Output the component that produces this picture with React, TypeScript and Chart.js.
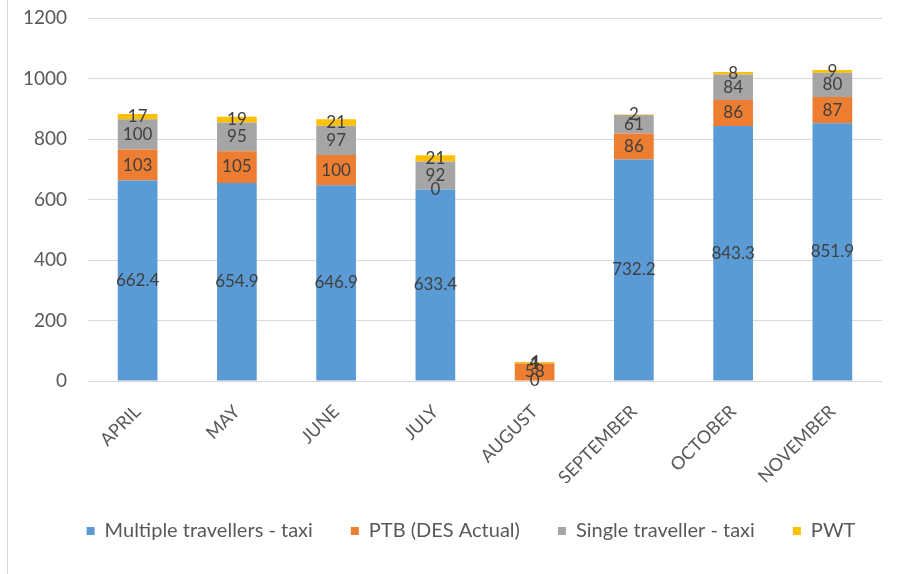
import React, { useEffect, useRef } from "react";
import { Chart, registerables } from "chart.js";

Chart.register(...registerables);

const categories = ["APRIL", "MAY", "JUNE", "JULY", "AUGUST", "SEPTEMBER", "OCTOBER", "NOVEMBER"];
const multipleTaxi = [662.4, 654.9, 646.9, 633.4, 0, 732.2, 843.3, 851.9];
const ptbActual = [103, 105, 100, 0, 58, 86, 86, 87];
const singleTaxi = [100, 95, 97, 92, 1, 61, 84, 80];
const pwt = [17, 19, 21, 21, 4, 2, 8, 9];
const yTicks = [0, 200, 400, 600, 800, 1000, 1200];

const FONT = "Lato, 'Open Sans', sans-serif";

// Writes each segment's value in the middle of its stacked block.
const segmentLabels = {
  id: "segmentLabels",
  afterDatasetsDraw(chart: any) {
    const ctx = chart.ctx;
    ctx.save();
    ctx.font = `17px ${FONT}`;
    ctx.fillStyle = "#404040";
    ctx.textAlign = "center";
    ctx.textBaseline = "middle";
    chart.data.datasets.forEach((ds: any, di: number) => {
      const meta = chart.getDatasetMeta(di);
      meta.data.forEach((bar: any, i: number) => {
        const v = ds.data[i];
        const { x, y, base } = bar.getProps(["x", "y", "base"], true);
        ctx.fillText(String(v), x, (y + base) / 2);
      });
    });
    ctx.restore();
  },
};

// Nudges the legend row a little to the right of the canvas centre.
const legendShift = {
  id: "legendShift",
  afterLayout(chart: any) {
    if (chart.legend) {
      chart.legend.left += 26;
      chart.legend.right += 26;
    }
  },
};

export default function App() {
  const canvasRef = useRef<HTMLCanvasElement | null>(null);

  useEffect(() => {
    if (!canvasRef.current) return;
    const chart = new Chart(canvasRef.current, {
      type: "bar",
      data: {
        labels: categories,
        datasets: [
          { label: "Multiple travellers - taxi", data: multipleTaxi, backgroundColor: "#5B9BD5" },
          { label: "PTB (DES Actual)", data: ptbActual, backgroundColor: "#ED7D31" },
          { label: "Single traveller - taxi", data: singleTaxi, backgroundColor: "#A5A5A5" },
          { label: "PWT", data: pwt, backgroundColor: "#FFC000" },
        ],
      },
      options: {
        responsive: false,
        animation: false,
        devicePixelRatio: 1,
        layout: { padding: { left: 8, right: 22, top: 18, bottom: 23 } },
        datasets: { bar: { categoryPercentage: 0.8, barPercentage: 0.5 } },
        scales: {
          x: {
            stacked: true,
            grid: { display: false },
            border: { display: false },
            ticks: {
              color: "#595959",
              font: { family: FONT, size: 18 },
              maxRotation: 45,
              minRotation: 45,
              padding: 12,
            },
            afterFit: (s: any) => {
              s.height = 102;
            },
          },
          y: {
            stacked: true,
            min: 0,
            max: 1200,
            afterBuildTicks: (s: any) => {
              s.ticks = yTicks.map((v) => ({ value: v }));
            },
            grid: {
              color: "#D9D9D9",
              lineWidth: 1,
              drawTicks: true,
              tickLength: 21,
              tickColor: "rgba(0,0,0,0)",
            },
            border: { display: false },
            ticks: {
              color: "#595959",
              font: { family: FONT, size: 19 },
              padding: 0,
              callback: (v: any) => String(v),
            },
            afterFit: (s: any) => {
              s.width = 80;
            },
          },
        },
        plugins: {
          legend: {
            position: "bottom",
            labels: {
              boxWidth: 8,
              boxHeight: 8,
              color: "#595959",
              font: { family: FONT, size: 20 },
              padding: 38,
            },
          },
          tooltip: { enabled: false },
        },
      },
      plugins: [segmentLabels, legendShift],
    });
    return () => chart.destroy();
  }, []);

  return (
    <div style={{ position: "absolute", left: 0, top: 0, width: 904, height: 574, background: "#fff" }}>
      <div style={{ position: "absolute", left: 7, top: 0, width: 1, height: 574, background: "#D9D9D9" }} />
      <canvas ref={canvasRef} width={904} height={574} style={{ position: "absolute", left: 0, top: 0 }} />
    </div>
  );
}
